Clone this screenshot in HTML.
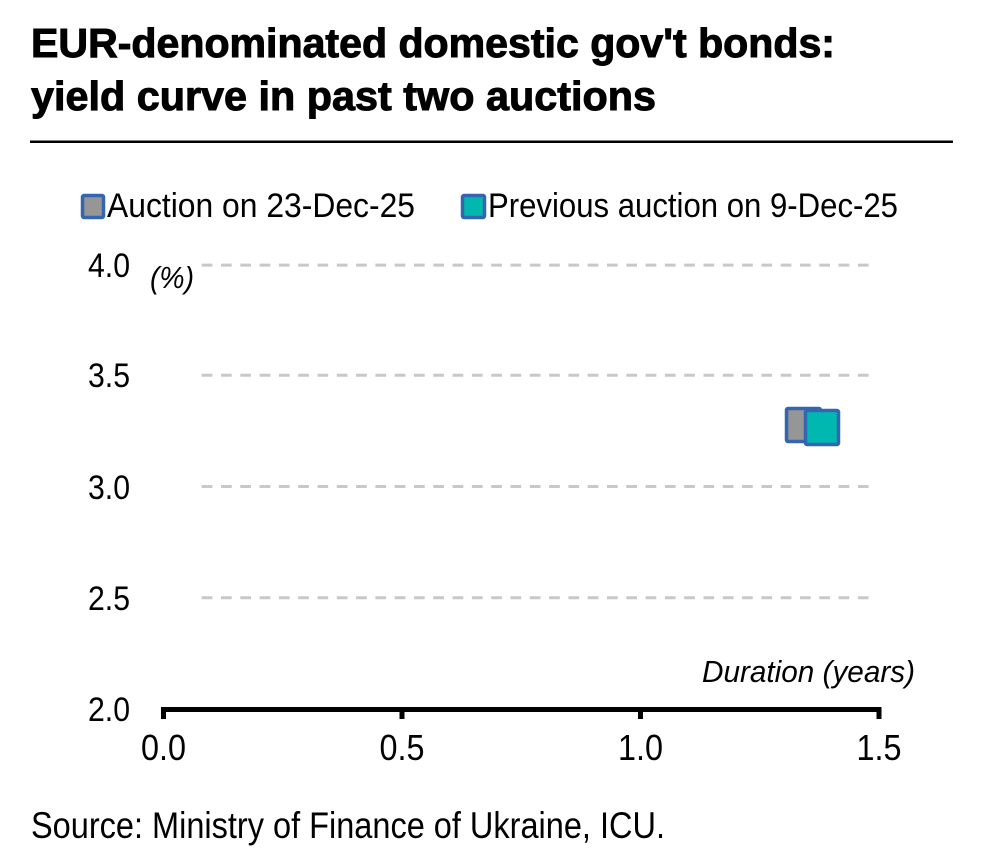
<!DOCTYPE html>
<html>
<head>
<meta charset="utf-8">
<style>
  html, body { margin: 0; padding: 0; background: #ffffff; }
  svg { display: block; }
  text { font-family: "Liberation Sans", Arial, sans-serif; fill: #000; }
</style>
</head>
<body>
<svg width="981" height="865" viewBox="0 0 981 865" xmlns="http://www.w3.org/2000/svg">
  <rect x="0" y="0" width="981" height="865" fill="#ffffff"/>

  <!-- Title -->
  <text x="31" y="57" font-size="41" font-weight="bold" stroke="#000" stroke-width="1" textLength="804" lengthAdjust="spacingAndGlyphs">EUR-denominated domestic gov't bonds:</text>
  <text x="31" y="110" font-size="41" font-weight="bold" stroke="#000" stroke-width="1" textLength="625" lengthAdjust="spacingAndGlyphs">yield curve in past two auctions</text>
  <rect x="30" y="140.5" width="923" height="2.5" fill="#000"/>

  <!-- Legend -->
  <rect x="82.5" y="195.5" width="21" height="22" rx="1.5" fill="#969696" stroke="#3465b0" stroke-width="3.5"/>
  <text x="107" y="217" font-size="34" textLength="308" lengthAdjust="spacingAndGlyphs">Auction on 23-Dec-25</text>
  <rect x="462.5" y="195.5" width="22" height="22" rx="1.5" fill="#00b8b0" stroke="#3465b0" stroke-width="3.5"/>
  <text x="488" y="217" font-size="34" textLength="410" lengthAdjust="spacingAndGlyphs">Previous auction on 9-Dec-25</text>

  <!-- Gridlines -->
  <g stroke="#c8c8c8" stroke-width="3" stroke-dasharray="10.7 8.6" fill="none">
    <line x1="201.7" y1="265.1" x2="874" y2="265.1"/>
    <line x1="201.7" y1="375.3" x2="874" y2="375.3"/>
    <line x1="201.7" y1="486.5" x2="874" y2="486.5"/>
    <line x1="201.7" y1="597.7" x2="874" y2="597.7"/>
  </g>

  <!-- Y axis labels -->
  <g font-size="34" text-anchor="end">
    <text x="130" y="277" textLength="42" lengthAdjust="spacingAndGlyphs">4.0</text>
    <text x="130" y="387" textLength="42" lengthAdjust="spacingAndGlyphs">3.5</text>
    <text x="130" y="499" textLength="42" lengthAdjust="spacingAndGlyphs">3.0</text>
    <text x="130" y="610" textLength="42" lengthAdjust="spacingAndGlyphs">2.5</text>
    <text x="130" y="721" textLength="42" lengthAdjust="spacingAndGlyphs">2.0</text>
  </g>
  <text x="150" y="288" font-size="31" font-style="italic" textLength="44" lengthAdjust="spacingAndGlyphs">(%)</text>

  <!-- X axis -->
  <rect x="161" y="707" width="720" height="5" fill="#000"/>
  <rect x="161" y="707" width="5" height="12" fill="#000"/>
  <rect x="399.5" y="707" width="5" height="12" fill="#000"/>
  <rect x="638" y="707" width="5" height="12" fill="#000"/>
  <rect x="876.5" y="707" width="5" height="12" fill="#000"/>

  <g font-size="36" text-anchor="middle">
    <text x="163.5" y="760" textLength="45" lengthAdjust="spacingAndGlyphs">0.0</text>
    <text x="402" y="760" textLength="45" lengthAdjust="spacingAndGlyphs">0.5</text>
    <text x="640.5" y="760" textLength="45" lengthAdjust="spacingAndGlyphs">1.0</text>
    <text x="879" y="760" textLength="45" lengthAdjust="spacingAndGlyphs">1.5</text>
  </g>
  <text x="915" y="682" font-size="31" font-style="italic" text-anchor="end" textLength="213" lengthAdjust="spacingAndGlyphs">Duration (years)</text>

  <!-- Markers -->
  <rect x="786.5" y="408.5" width="34" height="33" rx="1.5" fill="#969696" stroke="#3465b0" stroke-width="3.5"/>
  <rect x="805.5" y="410.5" width="33" height="34" rx="1.5" fill="#00b8b0" stroke="#3465b0" stroke-width="3.5"/>

  <!-- Source -->
  <text x="31" y="838" font-size="37" textLength="634" lengthAdjust="spacingAndGlyphs">Source: Ministry of Finance of Ukraine, ICU.</text>
</svg>
</body>
</html>
